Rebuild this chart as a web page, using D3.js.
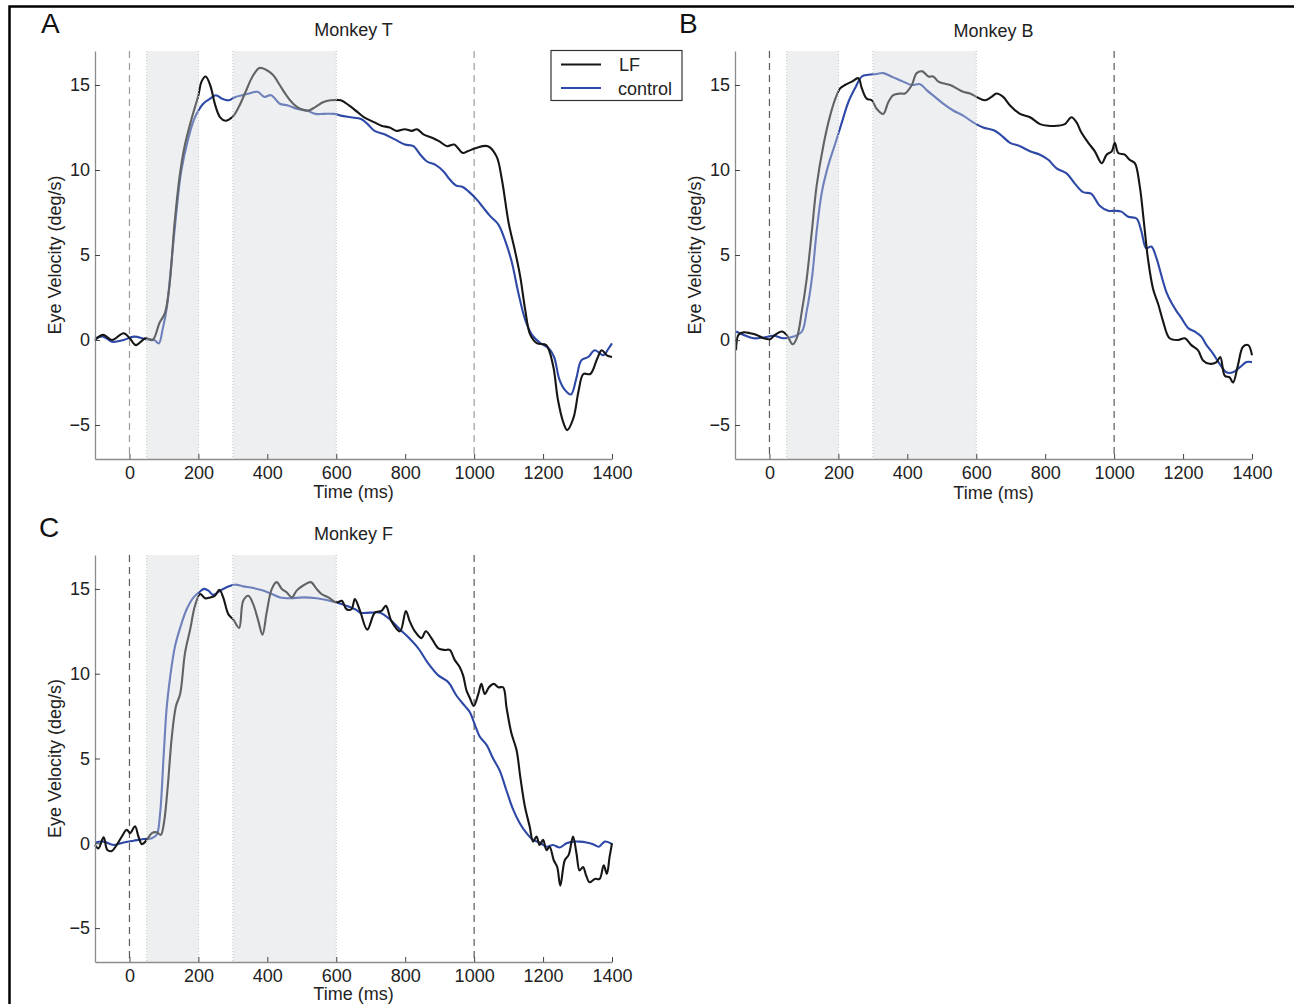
<!DOCTYPE html>
<html>
<head>
<meta charset="utf-8">
<script src="https://cdn.jsdelivr.net/npm/d3@7"></script>
<style>
  body { margin: 0; background: #fff; }
  svg { display: block; font-family: "Liberation Sans", Arial, Helvetica, sans-serif; }
</style>
</head>
<body>
<svg id="fig" width="1294" height="1004"></svg>
<script>
// ## Eye velocity traces, LF vs control, three monkeys

// axis setup shared by all panels
var xDomain = [-100, 1400];
var yDomain = [-7, 17];
var xTicks = [0, 200, 400, 600, 800, 1000, 1200, 1400];
var yTicks = [-5, 0, 5, 10, 15];
var eventTimes = [0, 1000];
var shadeWindows = [[50, 200], [300, 600]];
var seriesNames = ["LF", "control"];

// Monkey T
var timeA_LF = [-100,-76,-51,-17,1,18,47,67,87,103,116,131,146,160,180,200,209,221,234,249,263,278,298,317,337,357,377,396,416,436,455,475,495,519,539,563,583,613,637,662,681,711,731,755,775,799,819,834,853,878,898,922,942,967,981,1006,1040,1065,1080,1100,1119,1134,1148,1163,1183,1209,1229,1243,1258,1270,1288,1303,1317,1337,1357,1370,1385,1400];
var velA_LF = [0,0.3,0,0.4,0.1,-0.3,0.1,0,1.0,1.6,3.2,6.9,9.7,11.4,13.0,14.4,15.2,15.5,15.0,13.8,13.1,12.9,13.1,13.7,14.6,15.5,16.0,15.9,15.6,15.0,14.4,13.9,13.6,13.5,13.7,14.0,14.1,14.1,13.8,13.4,13.1,12.8,12.6,12.5,12.3,12.4,12.3,12.4,12.1,11.9,11.7,11.4,11.5,11.0,11.1,11.3,11.4,10.8,9.5,6.9,5.2,3.7,1.8,0.3,-0.2,-0.3,-1.5,-3.5,-4.8,-5.3,-4.6,-3.0,-2.0,-2.0,-1.1,-0.6,-0.9,-1.0];
var timeA_ctrl = [-100,-76,-51,-17,13,47,72,85,96,109,121,136,150,170,190,214,234,251,268,288,308,327,347,372,391,411,436,460,485,514,539,563,593,613,642,672,691,711,740,770,799,824,844,863,888,912,927,947,967,986,1006,1026,1046,1070,1089,1109,1128,1148,1168,1193,1217,1232,1247,1262,1281,1296,1311,1331,1350,1375,1390,1400];
var velA_ctrl = [0.1,0.2,-0.1,0,0.2,0.05,0,-0.2,0.6,2.0,4.4,7.5,9.9,11.8,13.1,13.9,14.2,14.4,14.2,14.1,14.3,14.4,14.5,14.6,14.3,14.4,13.9,13.8,13.6,13.5,13.3,13.3,13.3,13.2,13.1,13.0,12.7,12.3,12.1,11.8,11.5,11.4,10.9,10.5,10.3,9.9,9.5,9.1,9.0,8.7,8.3,7.8,7.3,6.8,5.9,4.6,2.8,1.2,0.3,-0.2,-0.5,-1.0,-2.3,-2.9,-3.2,-2.3,-1.2,-1.0,-0.6,-0.9,-0.5,-0.2];

// Monkey B
var timeB_LF = [-97,-90,-75,-56,-37,-17,2,16,36,50,67,79,94,108,123,137,157,176,195,205,219,239,258,268,282,297,311,330,345,359,379,393,413,427,444,461,475,490,504,524,543,562,582,601,625,644,659,678,698,727,756,785,809,833,857,876,891,905,925,944,964,978,993,1002,1012,1031,1045,1060,1074,1086,1098,1113,1128,1142,1161,1186,1205,1224,1243,1258,1277,1297,1308,1321,1335,1345,1359,1374,1389,1400];
var velB_LF = [-0.6,0.3,0.45,0.4,0.3,0.1,0.05,0.3,0.5,0.3,-0.25,0.1,1.7,3.6,6.4,9.1,11.5,13.2,14.4,14.8,15.0,15.2,15.4,14.8,14.2,14.1,13.6,13.3,14.0,14.4,14.5,14.5,15.0,15.7,15.8,15.5,15.5,15.2,15.1,15.0,14.8,14.6,14.5,14.3,14.1,14.3,14.5,14.3,13.8,13.3,13.1,12.7,12.6,12.6,12.7,13.1,12.8,12.2,11.6,11.1,10.4,10.9,11.1,11.6,11.0,10.9,10.6,10.4,9.1,7.0,4.8,3.0,2.1,1.1,0.1,0.0,0.1,-0.3,-0.6,-1.2,-1.4,-1.3,-1.0,-2.1,-2.2,-2.5,-1.5,-0.4,-0.3,-0.9];
var timeB_ctrl = [-97,-75,-46,-17,12,41,70,94,108,123,137,152,171,190,210,229,248,268,287,311,330,359,388,413,437,456,480,504,533,562,591,620,649,669,698,727,756,785,809,833,862,886,910,934,958,983,1002,1021,1041,1065,1079,1093,1108,1123,1137,1152,1166,1181,1195,1215,1234,1253,1268,1287,1306,1326,1345,1365,1384,1400];
var velB_ctrl = [0.5,0.3,0.1,0.15,0.25,0.1,0.2,0.5,1.7,3.6,6.4,8.7,10.3,11.5,12.8,14.0,14.8,15.5,15.6,15.65,15.7,15.45,15.2,15.0,15.05,14.7,14.3,13.9,13.5,13.2,12.8,12.5,12.35,12.1,11.6,11.4,11.1,10.9,10.6,10.1,9.8,9.2,8.7,8.6,7.9,7.6,7.6,7.55,7.25,7.15,6.4,5.4,5.5,4.8,3.8,2.8,2.2,1.7,1.3,0.7,0.5,0.2,-0.3,-0.8,-1.4,-1.9,-1.9,-1.6,-1.3,-1.3];

// Monkey F
var timeC_LF = [-100,-90,-75,-64,-51,-37,-22,-8,2,16,26,36,50,65,79,91,100,110,123,135,147,161,176,190,205,219,234,248,261,272,287,301,318,330,345,359,374,386,398,413,427,442,456,471,485,504,526,543,557,577,601,616,630,644,654,669,690,712,731,744,760,785,802,813,828,847,860,876,896,915,929,944,958,968,978,987,999,1012,1021,1031,1043,1057,1070,1084,1094,1108,1123,1134,1147,1161,1171,1181,1190,1200,1210,1219,1231,1241,1250,1263,1274,1287,1297,1306,1316,1325,1335,1350,1364,1376,1385,1393,1400];
var velC_LF = [-0.1,-0.3,0.35,-0.4,-0.45,-0.1,0.4,0.8,0.6,1.0,0.4,-0.05,0.2,0.6,0.65,0.5,1.2,3.1,6.3,8.1,8.8,11.2,12.6,14.0,14.7,14.45,14.5,14.6,14.95,14.5,13.5,13.2,12.7,14.3,14.6,14.1,13.1,12.3,13.6,15.0,15.4,15.0,14.8,14.5,14.9,15.2,15.4,15.0,14.7,14.5,14.2,14.3,13.8,13.8,14.4,13.7,12.6,13.6,13.7,14.0,13.1,12.5,13.7,13.1,12.5,12.1,12.5,12.1,11.5,11.4,11.4,10.8,10.4,9.9,9.0,8.6,8.1,8.8,9.4,8.8,9.2,9.4,9.2,9.2,8.0,6.5,5.5,3.9,2.2,1.0,0.1,0.4,-0.1,0.2,-0.4,-0.2,-1.0,-1.4,-2.5,-1.0,-0.7,0.4,-0.6,-1.6,-1.4,-1.9,-2.3,-2.1,-2.1,-1.3,-1.8,-0.8,0.0];
var timeC_ctrl = [-100,-75,-46,-17,12,41,65,79,89,99,108,118,132,147,166,186,205,216,229,243,263,282,306,330,359,388,413,437,466,504,543,572,601,630,659,669,698,727,756,785,809,838,867,896,925,949,973,987,1002,1016,1036,1055,1074,1094,1113,1132,1152,1171,1190,1210,1229,1248,1268,1287,1306,1326,1345,1362,1379,1400];
var velC_ctrl = [0.05,0.1,-0.1,0.05,0.15,0.25,0.3,0.5,1.8,5.1,8.0,9.8,11.6,12.7,13.8,14.5,14.85,15.0,14.9,14.65,14.9,15.1,15.25,15.15,15.05,14.9,14.7,14.5,14.45,14.5,14.45,14.35,14.2,14.0,13.75,13.6,13.6,13.6,13.2,12.6,12.15,11.5,10.6,9.9,9.5,8.7,8.1,7.75,7.0,6.3,5.8,5.0,4.3,3.1,2.0,1.2,0.6,0.2,0.05,-0.2,-0.1,-0.25,0.0,0.1,0.1,0.05,-0.05,-0.2,0.1,-0.05];

// colours
var lfColor = "#161616";
var ctrlColor = "#2d48a6";

// panel table built from the arrays above
var panels = [
	{letter: "A", title: "Monkey T", lf: [timeA_LF, velA_LF], ctrl: [timeA_ctrl, velA_ctrl],
	 x0: 95, x1: 612, yTop: 51, yBot: 459, dash: "#9a9a9a", letterX: 41, letterY: 33, titleY: 36, xlabY: 498, legend: true},
	{letter: "B", title: "Monkey B", lf: [timeB_LF, velB_LF], ctrl: [timeB_ctrl, velB_ctrl],
	 x0: 735, x1: 1252, yTop: 51, yBot: 459, dash: "#5a5a5a", letterX: 679, letterY: 33, titleY: 37, xlabY: 499, legend: false},
	{letter: "C", title: "Monkey F", lf: [timeC_LF, velC_LF], ctrl: [timeC_ctrl, velC_ctrl],
	 x0: 95, x1: 612, yTop: 555, yBot: 962, dash: "#5a5a5a", letterX: 39, letterY: 537, titleY: 540, xlabY: 1000, legend: false}
];

var svg = d3.select("#fig");
svg.append("rect").attr("width", 1294).attr("height", 1004).attr("fill", "#fff");

// outer frame of the figure (only top and left edges are in view)
svg.append("path")
	.attr("d", "M9.5,1004V6.5H1294")
	.attr("fill", "none")
	.attr("stroke", "#000")
	.attr("stroke-width", 2.5);

function zipSeries(s){
	return s[0].map(function(t, i){ return [t, s[1][i]]; });
}

panels.forEach(function(p){
	var x = d3.scaleLinear().domain(xDomain).range([p.x0, p.x1]);
	var y = d3.scaleLinear().domain(yDomain).range([p.yBot, p.yTop]);
	var g = svg.append("g").attr("class", "panel");

	// event markers
	g.selectAll(".event").data(eventTimes).enter().append("line")
		.attr("class", "event")
		.attr("x1", function(d){ return x(d); }).attr("x2", function(d){ return x(d); })
		.attr("y1", p.yTop).attr("y2", p.yBot)
		.attr("stroke", p.dash).attr("stroke-width", 1.2)
		.attr("stroke-dasharray", "7,5");

	// traces
	var line = d3.line()
		.x(function(d){ return x(d[0]); })
		.y(function(d){ return y(d[1]); })
		.curve(d3.curveCatmullRom.alpha(0.5));

	g.append("path").datum(zipSeries(p.ctrl))
		.attr("d", line).attr("fill", "none")
		.attr("stroke", ctrlColor).attr("stroke-width", 2.1)
		.attr("stroke-linejoin", "round");
	g.append("path").datum(zipSeries(p.lf))
		.attr("d", line).attr("fill", "none")
		.attr("stroke", lfColor).attr("stroke-width", 2.1)
		.attr("stroke-linejoin", "round");

	// translucent analysis windows sit on top of the traces
	g.selectAll(".shade").data(shadeWindows).enter().append("rect")
		.attr("class", "shade")
		.attr("x", function(d){ return x(d[0]); })
		.attr("width", function(d){ return x(d[1]) - x(d[0]); })
		.attr("y", p.yTop).attr("height", p.yBot - p.yTop)
		.attr("fill", "#d3d6db").attr("fill-opacity", 0.4);
	var edges = [];
	shadeWindows.forEach(function(w){ edges.push(w[0], w[1]); });
	g.selectAll(".edge").data(edges).enter().append("line")
		.attr("class", "edge")
		.attr("x1", function(d){ return x(d); }).attr("x2", function(d){ return x(d); })
		.attr("y1", p.yTop).attr("y2", p.yBot)
		.attr("stroke", "#c4c4c4").attr("stroke-width", 1)
		.attr("stroke-dasharray", "1,2");

	// axes, MATLAB style with inward ticks
	var xAxis = g.append("g")
		.attr("transform", "translate(0," + p.yBot + ")")
		.call(d3.axisBottom(x).tickValues(xTicks).tickFormat(d3.format("d"))
			.tickSize(-5).tickSizeOuter(0).tickPadding(7));
	var yAxis = g.append("g")
		.attr("transform", "translate(" + p.x0 + ",0)")
		.call(d3.axisLeft(y).tickValues(yTicks).tickSize(-5).tickSizeOuter(0).tickPadding(5));
	[xAxis, yAxis].forEach(function(a){
		a.attr("font-family", null).attr("font-size", null);
		a.select(".domain").attr("stroke", "#8c8c8c").attr("stroke-width", 1.3);
		a.selectAll(".tick line").attr("stroke", "#444").attr("stroke-width", 1);
		a.selectAll(".tick text").attr("fill", "#222").style("font-size", "18px");
	});

	// labels
	var cx = (p.x0 + p.x1) / 2;
	g.append("text").attr("x", cx).attr("y", p.xlabY)
		.attr("text-anchor", "middle").attr("fill", "#222").style("font-size", "18px")
		.text("Time (ms)");
	g.append("text")
		.attr("transform", "translate(" + (p.x0 - 34) + "," + ((p.yTop + p.yBot) / 2) + ") rotate(-90)")
		.attr("text-anchor", "middle").attr("fill", "#222").style("font-size", "18px")
		.text("Eye Velocity (deg/s)");
	g.append("text").attr("x", cx).attr("y", p.titleY)
		.attr("text-anchor", "middle").attr("fill", "#222").style("font-size", "18px")
		.text(p.title);
	g.append("text").attr("x", p.letterX).attr("y", p.letterY)
		.attr("fill", "#111").style("font-size", "28px")
		.text(p.letter);

	// legend
	if (p.legend){
		var lg = g.append("g").attr("transform", "translate(551,50.5)");
		lg.append("rect").attr("width", 131).attr("height", 50)
			.attr("fill", "#fff").attr("stroke", "#333").attr("stroke-width", 1.2);
		var colors = [lfColor, ctrlColor];
		seriesNames.forEach(function(name, i){
			var yy = 14 + i * 23.5;
			lg.append("line").attr("x1", 10).attr("x2", 50).attr("y1", yy).attr("y2", yy)
				.attr("stroke", colors[i]).attr("stroke-width", 2.1);
			lg.append("text").attr("x", name === "LF" ? 68 : 67).attr("y", yy + 6.5)
				.attr("fill", "#222").style("font-size", "18px").text(name);
		});
	}
});
</script>
</body>
</html>
